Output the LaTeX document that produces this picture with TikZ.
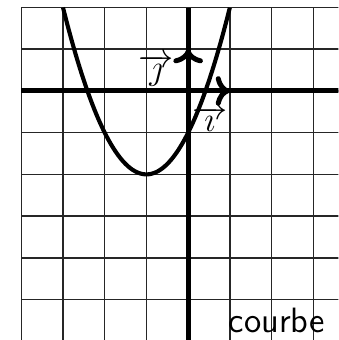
\documentclass[tikz,border=0pt]{standalone}
\usetikzlibrary{arrows.meta, positioning}
\tikzset{
    grille/.style={draw=black!85, line width=0.5pt},
    axe/.style={line width=1.7pt},
    vecteur/.style={-{To[scale=0.9]}, line width=1.7pt},
    trace/.style={line width=1.4pt},
    etiquette/.style={font=\large, inner sep=1pt}
}

\begin{document}
\begin{tikzpicture}[x=0.5cm, y=0.5cm]
            \useasboundingbox (-4.51,-5.97) rectangle (3.6,2.18);
            \clip (-4.51,-5.97) rectangle (3.6,2.18);
            \draw [grille, xstep=0.5cm, ystep=0.5cm] (-4,-6) grid (4,2);
            \draw [axe] (-4,0) -- (4,0);
            \draw [axe] (0,-6) -- (0,2);

            \coordinate (O) at (0,0);
            \coordinate (I) at (1,0);
            \coordinate (J) at (0,1);
            \draw [vecteur] (O) -- (I);
            \draw [vecteur] (O) -- (J);
            \node (vi) [etiquette] at (0.52,-0.67) {$\overrightarrow{\imath}$};
            \node (vj) [etiquette] at (-0.77,0.5) {$\overrightarrow{\jmath}$};

            \draw [trace, domain=-3:1, samples=100, smooth] plot (\x, {(\x+1)^2-2});

            \node (nom) [etiquette, anchor=base west, inner sep=0pt] at (0.96,-5.8) {\sffamily courbe};
        \end{tikzpicture}
\end{document}
